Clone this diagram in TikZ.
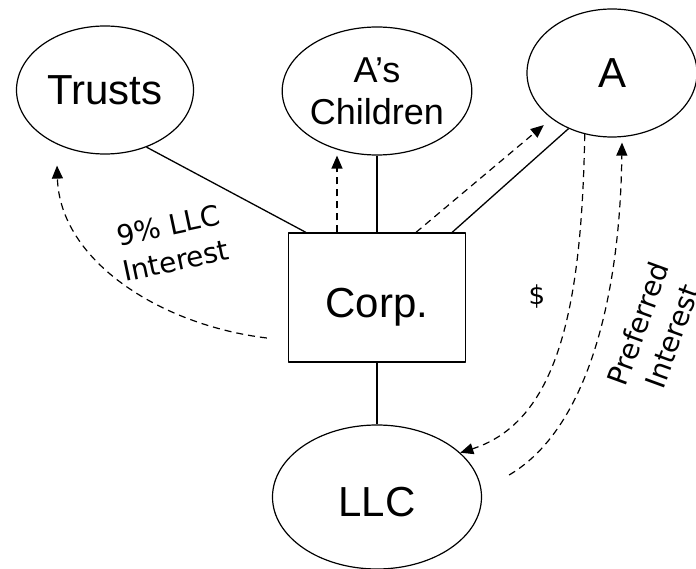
\documentclass[tikz,border=0pt]{standalone}
\usepackage{fontspec}
\setmainfont{Liberation Sans}
\newfontfamily\labelfont{DejaVu Sans}
\usetikzlibrary{arrows.meta,shapes.geometric}

\begin{document}
\begin{tikzpicture}[
  x=1pt,
  y=-1pt,
  line join=round,
  party/.style={draw,ellipse,line width=1.2pt,inner sep=0pt,
    minimum width=177pt,minimum height=128pt,font=\fontsize{42}{48}\selectfont},
  company/.style={draw,rectangle,line width=1.3pt,inner sep=0pt,
    minimum width=177pt,minimum height=129pt,font=\fontsize{42}{48}\selectfont},
  owns/.style={line width=1.3pt},
  flow/.style={line width=1.2pt,dash pattern=on 7pt off 5pt,
    -{Triangle[length=13pt,width=11pt]}},
  tag/.style={font=\labelfont\fontsize{28}{36}\selectfont,align=center,inner sep=0pt}
]
  % Page frame in pixel units, y pointing down.
  \useasboundingbox (0,0) rectangle (696,569);

  % Owners and entities.
  \node[party] (trusts) at (105,90) {Trusts};
  \node[party,align=center,font=\fontsize{36}{42}\selectfont] (kids) at (377,91) {A’s\\Children};
  \node[party,minimum width=170pt] (a) at (612,73) {A};
  \node[company,text height=39pt,text depth=0pt] (corp) at (377,297.5) {Corp.};
  \node[party,minimum width=209pt,minimum height=144pt,text height=38pt,text depth=0pt] (llc) at (377,497) {LLC};

  % Ownership lines.
  \draw[owns] (trusts.-54) -- ([xshift=18pt]corp.north west);
  \draw[owns] (kids) -- (corp);
  \draw[owns] (a.232) -- ([xshift=-14pt]corp.north east);
  \draw[owns] (corp) -- (llc);

  % Transfers out of Corp.
  \draw[flow] ([xshift=-40pt]corp.north) -- ([xshift=-40pt]kids.south);
  \draw[flow,shorten >=10pt] ([xshift=39pt]corp.north) -- (a.217);
  \draw[flow] ([shift={(-21,40.5)}]corp.west) .. controls +(-107,-13) and +(3,95) .. ([shift={(-48,11)}]trusts.south);

  % Cash in, preferred interest out.
  \draw[flow] (a.246) .. controls +(-3,167) and +(100,-32) .. (llc.28);
  \draw[flow] ([shift={(27,-22)}]llc.east) .. controls +(77,-45) and +(-2,158) .. ([shift={(10,5)}]a.south);

  % Labels on the transfers.
  \node[tag,rotate=12] (llcshare) at (172,243) {9\% LLC\\Interest};
  \node[tag,font=\labelfont\fontsize{26}{32}\selectfont] (cash) at (537,297) {\$};
  \node[tag,rotate=70] (pref) at (655,330) {Preferred\\Interest};
\end{tikzpicture}
\end{document}
